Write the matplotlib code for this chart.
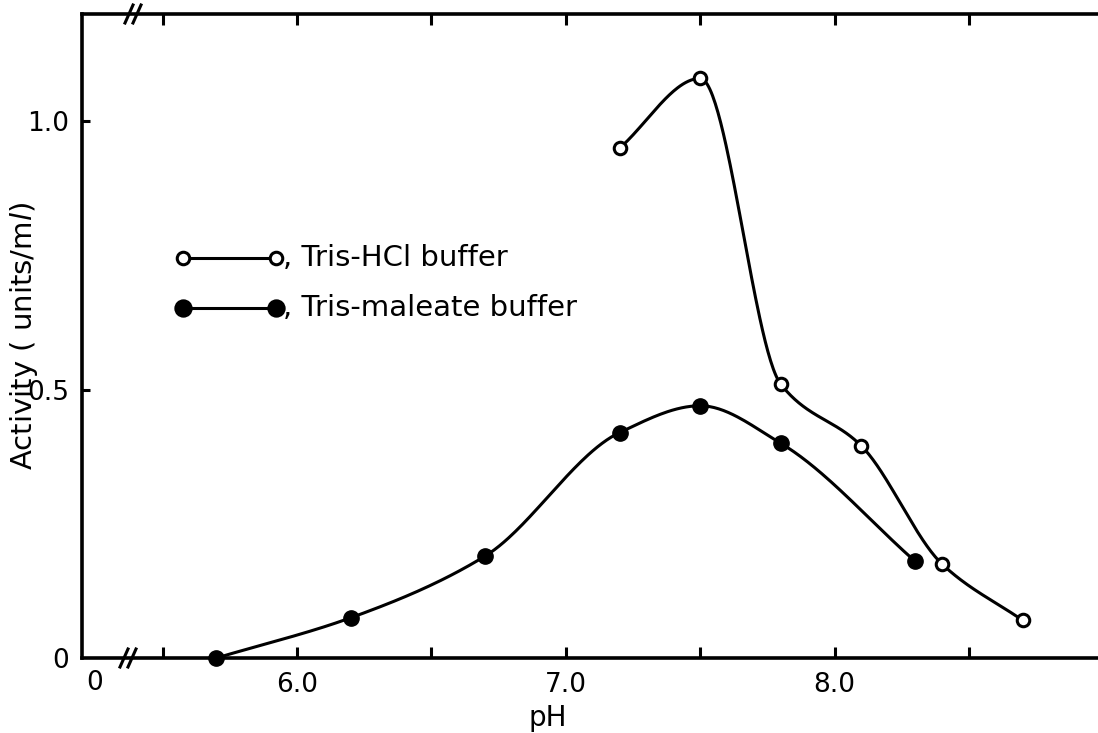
import numpy as np
import matplotlib
matplotlib.use("Agg")
import matplotlib.pyplot as plt
from matplotlib.lines import Line2D

# ---- data ----
ph_hcl = [7.2, 7.5, 7.8, 8.1, 8.4, 8.7]
act_hcl = [0.95, 1.08, 0.51, 0.395, 0.175, 0.07]
ph_mal = [5.7, 6.2, 6.7, 7.2, 7.5, 7.8, 8.3]
act_mal = [0.0, 0.075, 0.19, 0.42, 0.47, 0.40, 0.18]
x_ticks = [5.5, 6.0, 6.5, 7.0, 7.5, 8.0, 8.5]
x_ticklabels = ["", "6.0", "", "7.0", "", "8.0", ""]
y_ticks = [0.0, 0.5, 1.0]
y_ticklabels = ["0", "0.5", "1.0"]
labels = [", Tris-HCl buffer", ", Tris-maleate buffer"]


def pchip(x, y, n=300):
    x = np.asarray(x, float); y = np.asarray(y, float)
    h = np.diff(x); d = np.diff(y) / h
    m = np.zeros_like(y)
    for k in range(1, len(x) - 1):
        if d[k - 1] * d[k] > 0:
            w1 = 2 * h[k] + h[k - 1]; w2 = h[k] + 2 * h[k - 1]
            m[k] = (w1 + w2) / (w1 / d[k - 1] + w2 / d[k])
    m[0] = d[0]; m[-1] = d[-1]
    xs = np.linspace(x[0], x[-1], n)
    idx = np.clip(np.searchsorted(x, xs) - 1, 0, len(x) - 2)
    t = (xs - x[idx]) / h[idx]
    h00 = 2 * t**3 - 3 * t**2 + 1; h10 = t**3 - 2 * t**2 + t
    h01 = -2 * t**3 + 3 * t**2; h11 = t**3 - t**2
    ys = h00 * y[idx] + h10 * h[idx] * m[idx] + h01 * y[idx + 1] + h11 * h[idx] * m[idx + 1]
    return xs, ys


plt.rcParams['font.family'] = ['DejaVu Sans']
fig = plt.figure(figsize=(10.98, 7.33), dpi=100)
ax = fig.add_axes([82 / 1098, 75 / 733, 1016 / 1098, 644 / 733])
ax.set_xlim(5.2, 8.98)
ax.set_ylim(0, 1.2)

lw = 2.2
xs, ys = pchip(ph_hcl, act_hcl)
ax.plot(xs, ys, color='black', lw=lw, zorder=2)
ax.plot(ph_hcl, act_hcl, 'o', ms=9, mfc='white', mec='black', mew=2.2, zorder=3, clip_on=False)
xs, ys = pchip(ph_mal, act_mal)
ax.plot(xs, ys, color='black', lw=lw, zorder=2)
ax.plot(ph_mal, act_mal, 'o', ms=11, mfc='black', mec='black', zorder=3, clip_on=False)

# spines
for s in ['left', 'bottom', 'top']:
    ax.spines[s].set_linewidth(2.6)
ax.spines['right'].set_visible(False)

ax.set_xticks(x_ticks)
ax.set_xticklabels(x_ticklabels)
ax.set_yticks(y_ticks)
ax.set_yticklabels(y_ticklabels)
ax.tick_params(axis='x', direction='in', length=8, width=2.2, top=True, labelsize=19, pad=10)
ax.tick_params(axis='y', direction='in', length=6, width=2.2, right=False, labelsize=19, pad=9)
ax.yaxis.get_major_ticks()[0].tick1line.set_visible(False)

# axis labels
fig.text(548 / 1098, 1 - 718 / 733, "pH", ha='center', va='center', fontsize=20)
fig.text(24 / 1098, 1 - 336 / 733, "Activity ( units/m$\\it{l}$)", rotation=90,
         ha='center', va='center', fontsize=21)
fig.text(95 / 1098, 1 - 683 / 733, "0", ha='center', va='center', fontsize=19)

# break marks
for (xpx, ypx) in [(128, 658), (133, 14)]:
    for off in (-4, 4):
        xc = (xpx + off) / 1098; yc = 1 - ypx / 733
        fig.add_artist(Line2D([xc - 4 / 1098, xc + 4 / 1098], [yc - 9 / 733, yc + 9 / 733],
                              color='black', lw=2.2))

# legend drawn manually in figure pixel coords
for i, (lab, filled) in enumerate(zip(labels, [False, True])):
    ypx = 258 + 50 * i
    yf = 1 - ypx / 733
    x0 = 183 / 1098; x1 = 276 / 1098
    fig.add_artist(Line2D([x0, x1], [yf, yf], color='black', lw=lw))
    fc = 'black' if filled else 'white'
    ms = 11 if filled else 9
    fig.add_artist(Line2D([x0, x1], [yf, yf], ls='none', marker='o', ms=ms,
                          mfc=fc, mec='black', mew=2.2))
    fig.text(283 / 1098, yf, lab, ha='left', va='center', fontsize=21)

fig.savefig("out.png", dpi=100)
